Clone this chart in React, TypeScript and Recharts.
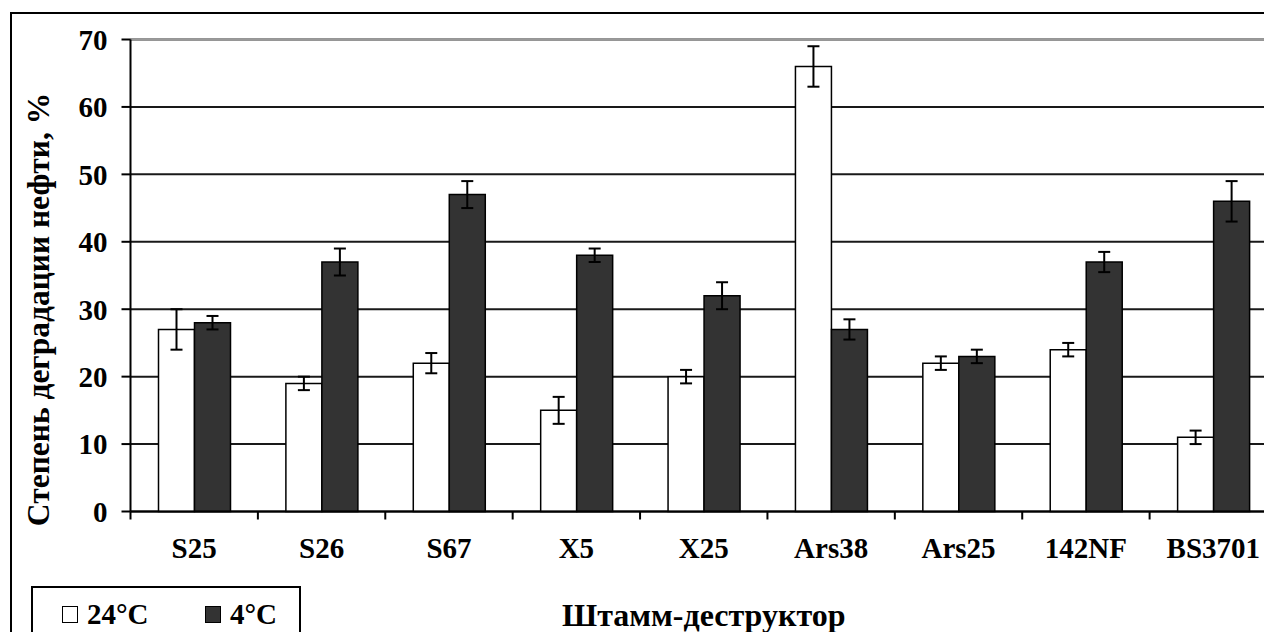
import { Bar, BarChart, CartesianGrid, ErrorBar, ReferenceLine, XAxis, YAxis } from "recharts";

// Степень деградации нефти штаммами-деструкторами при 24 °C и 4 °C
const STRAINS = ["S25", "S26", "S67", "X5", "X25", "Ars38", "Ars25", "142NF", "BS3701"];
const WARM = [27, 19, 22, 15, 20, 66, 22, 24, 11];
const WARM_ERR = [3, 1, 1.5, 2, 1, 3, 1, 1, 1];
const COLD = [28, 37, 47, 38, 32, 27, 23, 37, 46];
const COLD_ERR = [1, 2, 2, 1, 2, 1.5, 1, 1.5, 3];
const Y_TICKS = [0, 10, 20, 30, 40, 50, 60, 70];
const SERIES_NAMES = ["24°C", "4°C"];

const FONT = "'Liberation Serif', serif";
const DARK = "#333333";

const W = 1300;
const H = 640;
const MARGIN = { top: 39.5, right: 23, bottom: 68.5, left: 0 };
const Y_AXIS_W = 130.5;
const X_AXIS_H = 60;
const PLOT_W = W - MARGIN.left - MARGIN.right - Y_AXIS_W;
const BAND = PLOT_W / STRAINS.length;

const data = STRAINS.map((name, i) => ({
  name,
  warm: WARM[i],
  warmErr: WARM_ERR[i],
  cold: COLD[i],
  coldErr: COLD_ERR[i],
}));

// подпись категории по центру, засечка — на левой границе категории
function StrainTick(props: { x?: number; y?: number; payload?: { value: string } }) {
  const x = Number(props.x);
  const y = Number(props.y);
  return (
    <g>
      <line x1={x - BAND / 2} y1={y - 8} x2={x - BAND / 2} y2={y} stroke="#000" strokeWidth={2} />
      <text
        x={x}
        y={y + 38.5}
        textAnchor="middle"
        style={{ fontFamily: FONT, fontWeight: 700, fontSize: 29 }}
        fill="#000"
      >
        {props.payload?.value}
      </text>
    </g>
  );
}

function YTitle(props: { viewBox?: { x: number; y: number; width: number; height: number } }) {
  const vb = props.viewBox ?? { x: 0, y: 0, width: 0, height: 0 };
  const cx = 38.5;
  const cy = vb.y + vb.height / 2 + 34;
  return (
    <text
      x={cx}
      y={cy}
      transform={`rotate(-90 ${cx} ${cy})`}
      textAnchor="middle"
      dominantBaseline="central"
      style={{ fontFamily: FONT, fontWeight: 700, fontSize: 31.5 }}
      fill="#000"
    >
      Степень деградации нефти, %
    </text>
  );
}

function XTitle(props: { viewBox?: { x: number; y: number; width: number; height: number } }) {
  const vb = props.viewBox ?? { x: 0, y: 0, width: 0, height: 0 };
  return (
    <text
      x={vb.x + vb.width / 2}
      y={vb.y + 114.5}
      textAnchor="middle"
      style={{ fontFamily: FONT, fontWeight: 700, fontSize: 32 }}
      fill="#000"
    >
      Штамм-деструктор
    </text>
  );
}

function LegendBox() {
  const fills = ["#ffffff", DARK];
  return (
    <div
      style={{
        position: "absolute",
        left: 31,
        top: 586,
        width: 266,
        height: 80,
        border: "2px solid #000",
        background: "#fff",
        fontFamily: FONT,
        fontWeight: 700,
        fontSize: 29,
        color: "#000",
      }}
    >
      {SERIES_NAMES.map((n, i) => (
        <div
          key={n}
          style={{
            position: "absolute",
            left: i === 0 ? 29 : 172,
            top: 10,
            display: "flex",
            alignItems: "center",
            lineHeight: "32px",
          }}
        >
          <span
            style={{
              display: "inline-block",
              width: 14,
              height: 15,
              border: "1.5px solid #000",
              background: fills[i],
              marginRight: 9,
            }}
          />
          {n}
        </div>
      ))}
    </div>
  );
}

export default function App() {
  return (
    <div
      style={{
        position: "fixed",
        left: 0,
        top: 0,
        width: 1264,
        height: 632,
        overflow: "hidden",
        background: "#fff",
      }}
    >
      <div
        style={{
          position: "absolute",
          left: 10,
          top: 12,
          width: 1400,
          height: 800,
          border: "2.5px solid #000",
        }}
      />
      <div style={{ position: "absolute", left: 0, top: 0 }}>
        <BarChart
          width={W}
          height={H}
          data={data}
          margin={MARGIN}
          barGap={0}
          barSize={36}
        >
          <CartesianGrid vertical={false} stroke="#000" strokeWidth={2} strokeOpacity={0.9} />
          <ReferenceLine y={70} stroke="#9a9a9a" strokeWidth={2.5} />
          <XAxis
            dataKey="name"
            height={X_AXIS_H}
            axisLine={{ stroke: "#000", strokeWidth: 2 }}
            tickLine={false}
            tickSize={8}
            tickMargin={0}
            interval={0}
            tick={<StrainTick />}
            label={<XTitle />}
          />
          <YAxis
            width={Y_AXIS_W}
            domain={[0, 70]}
            ticks={Y_TICKS}
            interval={0}
            axisLine={{ stroke: "#000", strokeWidth: 2 }}
            tickLine={{ stroke: "#000", strokeWidth: 2 }}
            tickSize={9}
            tickMargin={14}
            tick={{ fontFamily: FONT, fontWeight: 700, fontSize: 29, fill: "#000" }}
            label={<YTitle />}
          />
          <Bar dataKey="warm" fill="#ffffff" stroke="#000" strokeWidth={1.5} isAnimationActive={false}>
            <ErrorBar dataKey="warmErr" direction="y" width={6} stroke="#000" strokeWidth={2} />
          </Bar>
          <Bar dataKey="cold" fill={DARK} stroke="#000" strokeWidth={1.5} isAnimationActive={false}>
            <ErrorBar dataKey="coldErr" direction="y" width={6} stroke="#000" strokeWidth={2} />
          </Bar>
        </BarChart>
      </div>
      <LegendBox />
    </div>
  );
}
